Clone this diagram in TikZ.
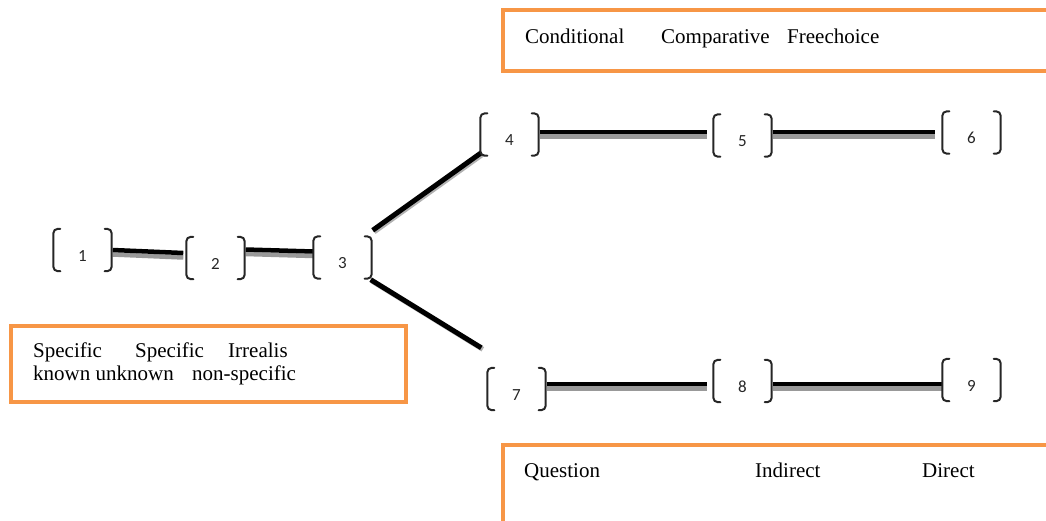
\documentclass[tikz,border=0pt]{standalone}
\usepackage{fontspec}
\setmainfont{Liberation Serif}
\newfontfamily\numfont{Carlito}
\definecolor{boxorange}{HTML}{F79646}
\newcommand\mybrackets[1]{%
  \draw[brkline] ([xshift=7pt]#1.north west) -- (#1.north west) -- (#1.south west) -- ([xshift=7pt]#1.south west);
  \draw[brkline] ([xshift=-7pt]#1.north east) -- (#1.north east) -- (#1.south east) -- ([xshift=-7pt]#1.south east);}
\begin{document}
\begin{tikzpicture}[x=1pt,y=-1pt,
  numbox/.style={minimum width=58pt, minimum height=42pt, inner sep=0pt,
    font=\numfont\fontsize{17}{17}\selectfont, text height=22pt, text depth=0pt, text=black!85},
  brkline/.style={line width=2pt, draw=black!85, rounded corners=4.5pt, line cap=round},
  conn/.style={line width=4.5pt, draw=black,
    preaction={draw=black!40, line width=4.5pt, transform canvas={yshift=-4.5pt}}},
  diag/.style={line width=5pt, draw=black,
    preaction={draw=black!30, line width=5pt, transform canvas={xshift=1.5pt,yshift=-1.5pt}}},
  obox/.style={draw=boxorange, line width=4.5pt, inner sep=0pt},
  lbl/.style={font=\fontsize{21}{24}\selectfont, anchor=base west, inner sep=0pt}
]
\useasboundingbox (0,0) rectangle (1046,520);

% orange boxes
\node[obox, minimum width=557pt, minimum height=61pt] (topbox) at (781.5,40.5) {};
\node[obox, minimum width=395pt, minimum height=76pt] (leftbox) at (208.5,364) {};
\node[obox, minimum width=557pt, minimum height=95pt] (botbox) at (781.5,492.5) {};

\node[lbl] (t1) at (525,43.5) {Conditional};
\node[lbl] (t2) at (661,43.5) {Comparative};
\node[lbl] (t3) at (787,43.5) {Freechoice};

\node[lbl] (l1) at (33,357.5) {Specific};
\node[lbl] (l2) at (135,357.5) {Specific};
\node[lbl] (l3) at (228,357.5) {Irrealis};
\node[lbl] (l4) at (33,380.5) {known unknown};
\node[lbl] (l5) at (192,380.5) {non-specific};

\node[lbl] (b1) at (524,477) {Question};
\node[lbl] (b2) at (755,477) {Indirect};
\node[lbl] (b3) at (922,477) {Direct};

% bracket nodes
\node[numbox] (n1) at (82.5,250) {1};
\node[numbox] (n2) at (215.5,258) {2};
\node[numbox] (n3) at (342.5,257.5) {3};
\node[numbox] (n4) at (509.5,134.5) {4};
\node[numbox] (n5) at (742.5,135.5) {5};
\node[numbox] (n6) at (971.5,132.5) {6};
\node[numbox] (n7) at (516.5,389) {7};
\node[numbox] (n8) at (742.5,381) {8};
\node[numbox] (n9) at (971.5,380) {9};

% connectors
\draw[conn] ([xshift=1pt]n1.east) -- ([xshift=-3pt,yshift=5pt]n2.west);
\draw[conn] ([xshift=1pt,yshift=8.5pt]n2.east) -- ([yshift=6pt]n3.west);
\draw[diag] ([xshift=1pt,yshift=6pt]n3.north east) -- ([xshift=1pt,yshift=3pt]n4.south west);
\draw[diag] ([xshift=-1pt,yshift=-1pt]n3.south east) -- ([xshift=-6pt,yshift=20pt]n7.north west);
\draw[conn] ([xshift=1pt,yshift=2.5pt]n4.east) -- ([xshift=-6pt,yshift=3.5pt]n5.west);
\draw[conn] ([xshift=1pt,yshift=3.5pt]n5.east) -- ([xshift=-7pt,yshift=0.5pt]n6.west);
\draw[conn] ([xshift=1pt,yshift=5pt]n7.east) -- ([xshift=-6pt,yshift=-3pt]n8.west);
\draw[conn] ([xshift=1pt,yshift=-3pt]n8.east) -- ([yshift=-4pt]n9.west);

\foreach \n in {n1,n2,n3,n4,n5,n6,n7,n8,n9} {\mybrackets{\n}}
\end{tikzpicture}
\end{document}
